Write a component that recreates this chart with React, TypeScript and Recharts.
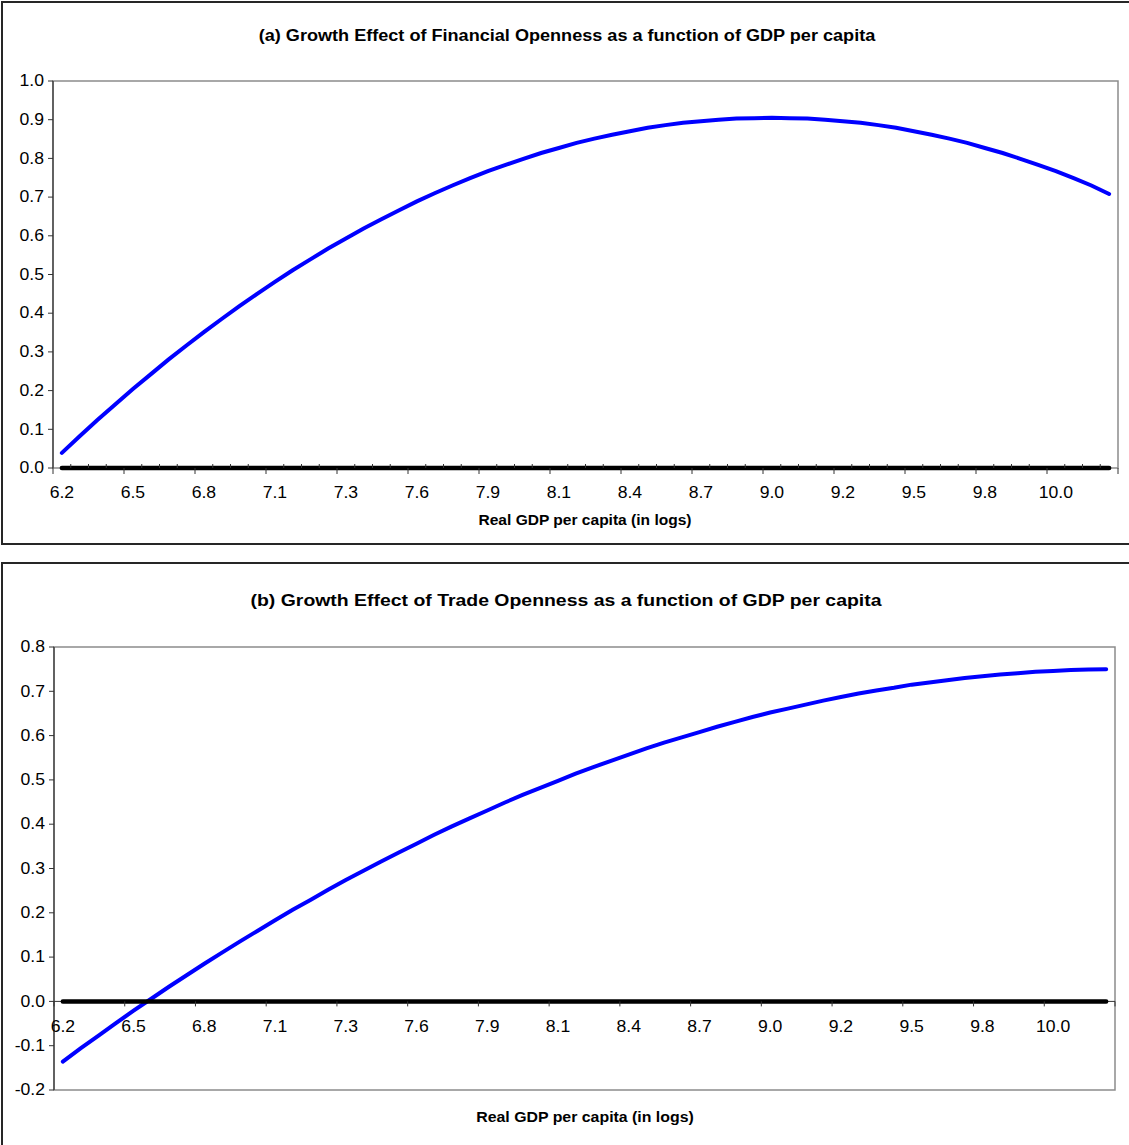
import React from 'react';
import { LineChart, Line, XAxis, YAxis, ReferenceArea, ReferenceLine } from 'recharts';

// Real GDP per capita (in logs) — 60 categories, every 4th one labelled
const gdpLog = [
  6.20, 6.27, 6.34, 6.40, 6.47, 6.54, 6.61, 6.68, 6.75, 6.83,
  6.91, 6.98, 7.06, 7.12, 7.18, 7.24, 7.30, 7.37, 7.44, 7.51,
  7.58, 7.65, 7.73, 7.80, 7.87, 7.93, 7.99, 8.06, 8.12, 8.19,
  8.26, 8.33, 8.40, 8.47, 8.54, 8.61, 8.68, 8.75, 8.83, 8.90,
  8.97, 9.03, 9.09, 9.16, 9.22, 9.29, 9.36, 9.43, 9.50, 9.57,
  9.64, 9.71, 9.78, 9.84, 9.90, 9.96, 10.02, 10.09, 10.16, 10.23,
];

// (a) Growth effect of financial openness
const financialEffect = [
  0.039, 0.082, 0.124, 0.164, 0.204, 0.242, 0.280, 0.316, 0.351, 0.385,
  0.418, 0.450, 0.481, 0.511, 0.539, 0.567, 0.593, 0.619, 0.643, 0.666,
  0.689, 0.710, 0.730, 0.749, 0.767, 0.783, 0.799, 0.814, 0.827, 0.840,
  0.851, 0.861, 0.870, 0.879, 0.886, 0.892, 0.896, 0.900, 0.903, 0.904,
  0.905, 0.904, 0.903, 0.900, 0.896, 0.892, 0.886, 0.879, 0.870, 0.861,
  0.851, 0.840, 0.827, 0.814, 0.799, 0.783, 0.767, 0.749, 0.730, 0.708,
];

// (b) Growth effect of trade openness
const tradeEffect = [
  -0.136, -0.106, -0.078, -0.049, -0.021, 0.006, 0.033, 0.059, 0.085, 0.110,
  0.135, 0.159, 0.183, 0.207, 0.229, 0.252, 0.274, 0.295, 0.316, 0.336,
  0.356, 0.376, 0.395, 0.413, 0.431, 0.449, 0.466, 0.482, 0.498, 0.514,
  0.529, 0.543, 0.557, 0.571, 0.584, 0.596, 0.608, 0.620, 0.631, 0.642,
  0.652, 0.661, 0.670, 0.679, 0.687, 0.695, 0.702, 0.708, 0.715, 0.720,
  0.725, 0.730, 0.734, 0.738, 0.741, 0.744, 0.746, 0.748, 0.749, 0.750,
];

// zero reference series
const zeroSeries = [
  0, 0, 0, 0, 0, 0, 0, 0, 0, 0, 0, 0, 0, 0, 0, 0, 0, 0, 0, 0,
  0, 0, 0, 0, 0, 0, 0, 0, 0, 0, 0, 0, 0, 0, 0, 0, 0, 0, 0, 0,
  0, 0, 0, 0, 0, 0, 0, 0, 0, 0, 0, 0, 0, 0, 0, 0, 0, 0, 0, 0,
];

const yTicksA = [0, 0.1, 0.2, 0.3, 0.4, 0.5, 0.6, 0.7, 0.8, 0.9, 1.0];
const yTicksB = [-0.2, -0.1, 0, 0.1, 0.2, 0.3, 0.4, 0.5, 0.6, 0.7, 0.8];

const titleA = '(a) Growth Effect of Financial Openness as a function of GDP per capita';
const titleB = '(b) Growth Effect of Trade Openness as a function of GDP per capita';
const xTitle = 'Real GDP per capita (in logs)';

const FONT = '"Liberation Sans", Arial, Helvetica, sans-serif';
const LABEL_EVERY = 4;

const dataA = gdpLog.map((x, i) => ({ x, effect: financialEffect[i], zero: zeroSeries[i] }));
const dataB = gdpLog.map((x, i) => ({ x, effect: tradeEffect[i], zero: zeroSeries[i] }));

type PanelCfg = {
  top: number;
  width: number;
  height: number;
  marginTop: number;
  marginRight: number;
  yWidth: number;
  xHeight: number;
  data: any[];
  yDomain: [number, number];
  yTicks: number[];
  minorTicks: boolean;
  majorLen: number;
  axisAtZero: boolean;
};

function makeXTick(cfg: PanelCfg) {
  const plotW = cfg.width - cfg.yWidth - cfg.marginRight;
  const plotH = cfg.height - cfg.marginTop - cfg.xHeight;
  const fallbackHalf = plotW / gdpLog.length / 2;
  const shift = cfg.axisAtZero
    ? (plotH * (0 - cfg.yDomain[0])) / (cfg.yDomain[1] - cfg.yDomain[0])
    : 0;
  return (props: any) => {
    const { x, y, payload, index } = props;
    const half = payload && payload.offset > 0 ? payload.offset : fallbackHalf;
    const y0 = y - shift;
    const major = index % LABEL_EVERY === 0;
    const bx = x - half;
    const isLast = index === gdpLog.length - 1;
    return (
      <g>
        {major ? (
          <line x1={bx} x2={bx} y1={y0} y2={y0 + cfg.majorLen} stroke="#333" strokeWidth={1} />
        ) : cfg.minorTicks ? (
          <line x1={bx} x2={bx} y1={y0 - 4} y2={y0} stroke="#333" strokeWidth={1} />
        ) : null}
        {isLast && (
          <line x1={x + half} x2={x + half} y1={y0} y2={y0 + cfg.majorLen} stroke="#333" strokeWidth={1} />
        )}
        {major && (
          <text
            transform={`translate(${x},${y0 + 25}) scale(1.1,1)`}
            x={0}
            y={0}
            textAnchor="middle"
            dominantBaseline="central"
            fontSize={16}
            fontFamily={FONT}
            fill="#000"
          >
            {Number(payload.value).toFixed(1)}
          </text>
        )}
      </g>
    );
  };
}

const YTick = (props: any) => {
  const { x, y, payload } = props;
  return (
    <text
      transform={`translate(${x},${y}) scale(1.1,1)`}
      x={0}
      y={0}
      textAnchor="end"
      dominantBaseline="central"
      fontSize={16}
      fontFamily={FONT}
      fill="#000"
    >
      {Number(payload.value).toFixed(1)}
    </text>
  );
};

function Panel({ cfg }: { cfg: PanelCfg }) {
  const first = gdpLog[0];
  const last = gdpLog[gdpLog.length - 1];
  return (
    <div style={{ position: 'absolute', left: 0, top: cfg.top }}>
      <LineChart
        width={cfg.width}
        height={cfg.height}
        data={cfg.data}
        margin={{ top: cfg.marginTop, right: cfg.marginRight, bottom: 0, left: 0 }}
      >
        <ReferenceArea
          x1={first}
          x2={last}
          y1={cfg.yDomain[0]}
          y2={cfg.yDomain[1]}
          fill="none"
          fillOpacity={0}
          stroke="#8c8c8c"
          strokeWidth={1.5}
          ifOverflow="visible"
        />
        <XAxis
          dataKey="x"
          type="category"
          scale="band"
          interval={0}
          height={cfg.xHeight}
          axisLine={false}
          tickLine={false}
          tickSize={0}
          tickMargin={0}
          tick={makeXTick(cfg)}
        />
        <YAxis
          type="number"
          domain={cfg.yDomain}
          ticks={cfg.yTicks}
          interval={0}
          width={cfg.yWidth}
          axisLine={{ stroke: '#333', strokeWidth: 1.2 }}
          tickLine={{ stroke: '#333', strokeWidth: 1 }}
          tickSize={5}
          tickMargin={4}
          tick={<YTick />}
        />
        {cfg.axisAtZero && <ReferenceLine y={0} stroke="#333" strokeWidth={1} />}
        <Line
          dataKey="effect"
          type="linear"
          stroke="#0000ff"
          strokeWidth={4}
          strokeLinecap="round"
          dot={false}
          activeDot={false}
          isAnimationActive={false}
        />
        <Line
          dataKey="zero"
          type="linear"
          stroke="#000000"
          strokeWidth={4.5}
          strokeLinecap="round"
          dot={false}
          activeDot={false}
          isAnimationActive={false}
        />
      </LineChart>
    </div>
  );
}

const cfgA: PanelCfg = {
  top: 0,
  width: 1140,
  height: 544,
  marginTop: 81,
  marginRight: 22,
  yWidth: 53,
  xHeight: 76,
  data: dataA,
  yDomain: [0, 1],
  yTicks: yTicksA,
  minorTicks: true,
  majorLen: 6,
  axisAtZero: false,
};

const cfgB: PanelCfg = {
  top: 563,
  width: 1140,
  height: 582,
  marginTop: 84,
  marginRight: 25,
  yWidth: 54,
  xHeight: 55,
  data: dataB,
  yDomain: [-0.2, 0.8],
  yTicks: yTicksB,
  minorTicks: false,
  majorLen: 5,
  axisAtZero: true,
};

const textBase: React.CSSProperties = {
  position: 'absolute',
  textAlign: 'center',
  fontFamily: FONT,
  fontWeight: 'bold',
  color: '#000',
  whiteSpace: 'nowrap',
  transformOrigin: 'center center',
};

export default function App() {
  return (
    <div
      style={{
        position: 'absolute',
        left: 0,
        top: 0,
        width: 1129,
        height: 1145,
        overflow: 'hidden',
        background: '#fff',
      }}
    >
      <div
        style={{
          position: 'absolute',
          left: 1,
          top: 1,
          width: 1160,
          height: 544,
          border: '2px solid #262626',
          boxSizing: 'border-box',
        }}
      />
      <div
        style={{
          position: 'absolute',
          left: 1,
          top: 562,
          width: 1160,
          height: 620,
          border: '2px solid #262626',
          boxSizing: 'border-box',
        }}
      />
      <Panel cfg={cfgA} />
      <Panel cfg={cfgB} />
      <div
        style={{
          ...textBase,
          left: 0,
          width: 1134,
          top: 26,
          lineHeight: '20px',
          fontSize: 16,
          transform: 'scaleX(1.13)',
        }}
      >
        {titleA}
      </div>
      <div
        style={{
          ...textBase,
          left: 0,
          width: 1132,
          top: 589,
          lineHeight: '22px',
          fontSize: 17.2,
          transform: 'scaleX(1.13)',
        }}
      >
        {titleB}
      </div>
      <div
        style={{
          ...textBase,
          left: 0,
          width: 1170,
          top: 511,
          lineHeight: '18px',
          fontSize: 14,
          transform: 'scaleX(1.11)',
        }}
      >
        {xTitle}
      </div>
      <div
        style={{
          ...textBase,
          left: 0,
          width: 1170,
          top: 1108,
          lineHeight: '18px',
          fontSize: 14.3,
          transform: 'scaleX(1.11)',
        }}
      >
        {xTitle}
      </div>
    </div>
  );
}
